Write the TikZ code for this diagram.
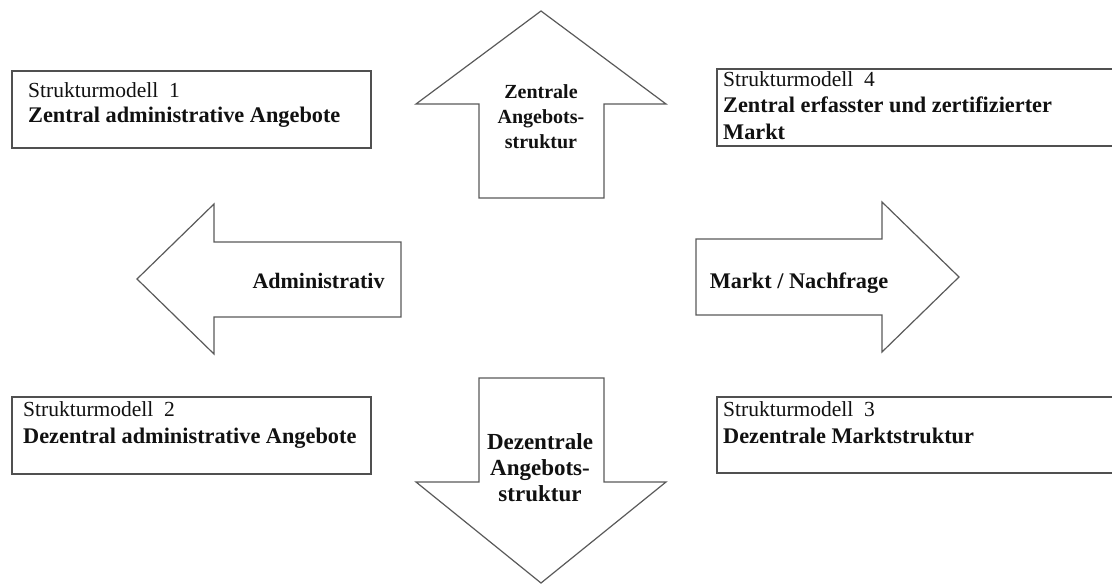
\documentclass[tikz,border=0pt]{standalone}
\usepackage{fontspec}
\setmainfont{Liberation Serif}
\definecolor{boxline}{HTML}{505050}
\definecolor{arrline}{HTML}{5A5A5A}
\definecolor{ink}{HTML}{111111}
\begin{document}
\begin{tikzpicture}[x=1pt,y=-1pt,
  modelbox/.style={draw=boxline, line width=1.6pt, rectangle, inner sep=0pt, outer sep=0pt},
  bigarrow/.style={draw=arrline, line width=1.2pt, line join=miter, fill=white},
  regline/.style={text=ink, inner sep=0pt, anchor=base west, font=\fontsize{21.5}{25}\selectfont},
  boldline/.style={text=ink, inner sep=0pt, anchor=base west, font=\fontsize{22.3}{25}\selectfont\bfseries},
  arrowlabel/.style={text=ink, inner sep=0pt, align=center}
]
\clip (0,0) rectangle (1112,585);
\fill[white] (0,0) rectangle (1112,585);

% boxes
\node[modelbox, minimum width=359pt, minimum height=77pt] (m1) at (191.5,109.5) {};
\node[modelbox, minimum width=403pt, minimum height=77pt] (m4) at (918.5,107.5) {};
\node[modelbox, minimum width=359pt, minimum height=77pt] (m2) at (191.5,435.5) {};
\node[modelbox, minimum width=403pt, minimum height=76pt] (m3) at (918.5,435) {};

% box texts
\node[regline] (m1a) at (28,98) {Strukturmodell\ \ 1};
\node[boldline] (m1b) at (28,123) {Zentral administrative Angebote};
\node[regline] (m4a) at (723,87) {Strukturmodell\ \ 4};
\node[boldline] (m4b) at (723,113) {Zentral erfasster und zertifizierter};
\node[boldline] (m4c) at (723,140) {Markt};
\node[regline] (m2a) at (23,417) {Strukturmodell\ \ 2};
\node[boldline] (m2b) at (23,443) {Dezentral administrative Angebote};
\node[regline] (m3a) at (723,417) {Strukturmodell\ \ 3};
\node[boldline] (m3b) at (723,443) {Dezentrale Marktstruktur};

% arrows
\draw[bigarrow] (479,198) -- (479,104) -- (416,104) -- (541,11) -- (666,104) -- (604,104) -- (604,198) -- cycle;
\draw[bigarrow] (479,378) -- (604,378) -- (604,482) -- (666,482) -- (541,583) -- (416,482) -- (479,482) -- cycle;
\draw[bigarrow] (401,242) -- (214,242) -- (214,204) -- (137,279) -- (214,354) -- (214,317) -- (401,317) -- cycle;
\draw[bigarrow] (696,239) -- (882,239) -- (882,202) -- (959,277) -- (882,352) -- (882,315) -- (696,315) -- cycle;

% arrow labels
\node[arrowlabel, font=\fontsize{20}{25}\selectfont\bfseries] (up) at (541,117) {Zentrale\\Angebots-\\struktur};
\node[arrowlabel, font=\fontsize{23}{26}\selectfont\bfseries] (down) at (540,468) {Dezentrale\\Angebots-\\struktur};
\node[arrowlabel, font=\fontsize{22}{25}\selectfont\bfseries] (left) at (318.5,281) {Administrativ};
\node[arrowlabel, font=\fontsize{22.3}{25}\selectfont\bfseries] (right) at (799,283) {Markt / Nachfrage};
\end{tikzpicture}
\end{document}
